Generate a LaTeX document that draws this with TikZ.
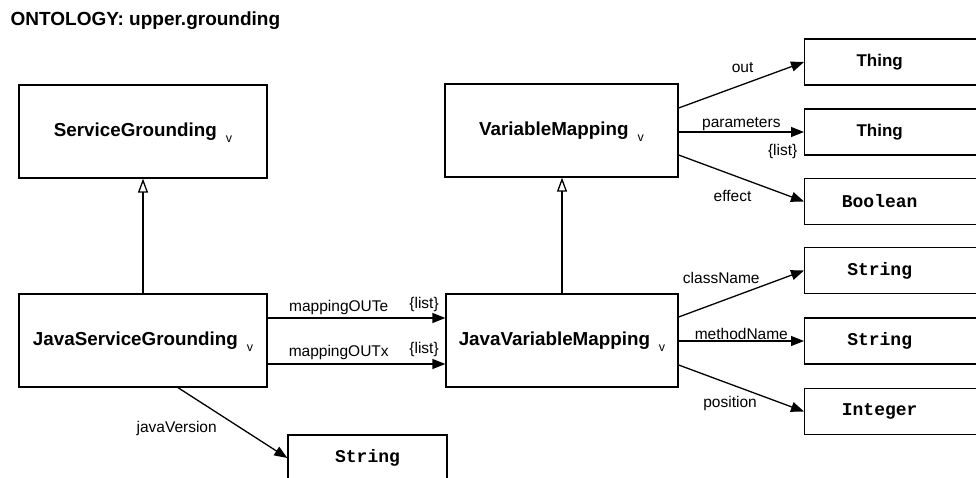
\documentclass[tikz,border=0pt]{standalone}
\usepackage{fontspec}
\setmainfont{Liberation Sans}
\setmonofont{Liberation Mono}
\usetikzlibrary{arrows.meta}
\newcommand{\clsname}[1]{\textbf{#1}\hspace{9pt}\raisebox{-6pt}[0pt][0pt]{\fontsize{12.5}{12.5}\selectfont v}}
\newcommand{\typename}[1]{\makebox[150pt]{#1}\hspace*{42pt}}
\tikzset{
  classbox/.style={draw, minimum width=#1, minimum height=93pt, inner sep=0pt,
    font=\fontsize{18.8}{20}\selectfont},
  typebox/.style={draw, minimum height=46pt, inner sep=0pt},
  thingfont/.style={font=\fontsize{17}{19}\selectfont\bfseries},
  monofont/.style={font=\fontsize{18}{20}\selectfont\ttfamily\bfseries},
  lbl/.style={inner sep=0pt, font=\fontsize{15.5}{17}\selectfont},
  rel/.style={-{Triangle[length=13pt,width=10pt]}},
  isa/.style={-{Triangle[open,length=14pt,width=10pt,fill=white]}}
}
\begin{document}
\begin{tikzpicture}[x=1pt, y=1pt, line width=1.3pt]
    \useasboundingbox (0,0) rectangle (976,-478);
    \clip (0,0) rectangle (976,-478);
    \node[anchor=west, inner sep=0pt, font=\fontsize{19}{21}\selectfont\bfseries] (title) at (10,-21) {ONTOLOGY: upper.grounding};
    \node[classbox=248pt] (sg) at (143,-131.5) {\clsname{ServiceGrounding}};
    \node[classbox=233pt] (vm) at (561.5,-130.5) {\clsname{VariableMapping}};
    \node[classbox=248pt] (jsg) at (143,-340.5) {\clsname{JavaServiceGrounding}};
    \node[classbox=232pt] (jvm) at (562,-340.5) {\clsname{JavaVariableMapping}};
    \node[typebox, thingfont, anchor=west] (thOut) at (804,-62) {\typename{Thing}};
    \node[typebox, thingfont, anchor=west] (thPar) at (804,-132) {\typename{Thing}};
    \node[typebox, monofont, anchor=west] (boolEff) at (804,-201.5) {\typename{Boolean}};
    \node[typebox, monofont, anchor=west] (strCls) at (804,-270.5) {\typename{String}};
    \node[typebox, monofont, anchor=west] (strMeth) at (804,-341) {\typename{String}};
    \node[typebox, monofont, anchor=west] (intPos) at (804,-411.5) {\typename{Integer}};
    \node[typebox, monofont, minimum width=159pt] (strJava) at (367.5,-458) {String};
    \draw[isa] (jsg) -- (sg);
    \draw[isa] (jvm.north) -- (jvm.north |- vm.south);
    \draw[rel] ([yshift=22.5pt]jsg.east) -- ([yshift=22.5pt]jsg.east -| jvm.west)
      node[lbl, pos=.4, yshift=10.5pt] (lOUTe) {mappingOUTe}
      node[lbl, pos=.88, yshift=14pt] (lOUTeList) {\{list\}};
    \draw[rel] ([yshift=-23.5pt]jsg.east) -- ([yshift=-23.5pt]jsg.east -| jvm.west)
      node[lbl, pos=.4, yshift=11.5pt] (lOUTx) {mappingOUTx}
      node[lbl, pos=.88, yshift=14.5pt] (lOUTxList) {\{list\}};
    \draw[rel] ([xshift=35pt]jsg.south) -- (strJava.west)
      node[lbl, pos=.5, xshift=-56pt, yshift=-6pt] (lJava) {javaVersion};
    \draw[rel] ([yshift=22.5pt]vm.east) -- (thOut.west)
      node[lbl, pos=.51, yshift=16.5pt] (lOut) {out};
    \draw[rel] (vm.east |- thPar.west) -- (thPar.west)
      node[lbl, pos=.5, yshift=8pt] (lPar) {parameters}
      node[lbl, pos=.83, yshift=-19pt] (lParList) {\{list\}};
    \draw[rel] ([yshift=-24.5pt]vm.east) -- (boolEff.west)
      node[lbl, pos=.43, yshift=-20.5pt] (lEff) {effect};
    \draw[rel] ([yshift=23.5pt]jvm.east) -- (strCls.west)
      node[lbl, pos=.34, yshift=23.5pt] (lCls) {className};
    \draw[rel] (jvm.east |- strMeth.west) -- (strMeth.west)
      node[lbl, pos=.5, yshift=7pt] (lMeth) {methodName};
    \draw[rel] ([yshift=-24.5pt]jvm.east) -- (intPos.west)
      node[lbl, pos=.41, yshift=-19pt] (lPos) {position};
\end{tikzpicture}
\end{document}
